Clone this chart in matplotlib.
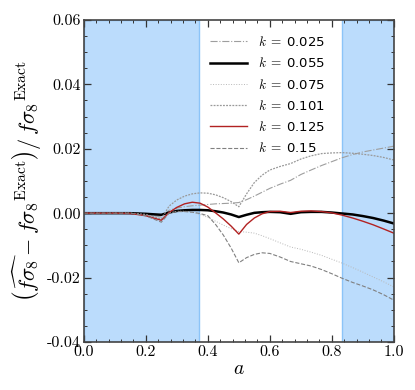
import matplotlib
matplotlib.use("Agg")
import matplotlib.pyplot as plt
import numpy as np
from matplotlib.ticker import AutoMinorLocator, FormatStrFormatter

plt.rcParams['font.family'] = 'serif'
plt.rcParams['font.serif'] = ['cmr10', 'DejaVu Serif']
plt.rcParams['mathtext.fontset'] = 'cm'
plt.rcParams['axes.formatter.use_mathtext'] = True
plt.rcParams['axes.unicode_minus'] = True

# scale factor grid and relative error curves
a = [0.0, 0.05, 0.1, 0.15, 0.2, 0.25, 0.275, 0.3, 0.325, 0.35, 0.375, 0.4, 0.425,
     0.45, 0.475, 0.5, 0.525, 0.55, 0.575, 0.6, 0.633, 0.667, 0.7, 0.733, 0.767,
     0.8, 0.833, 0.867, 0.9, 0.933, 0.967, 1.0]
err_k0025 = [0.0, 0.0, 0.0, 0.0, -0.0003, -0.0012, 0.0009, 0.0016, 0.002, 0.0023,
             0.0025, 0.0027, 0.0029, 0.003, 0.0031, 0.0033, 0.0042, 0.0053, 0.0065,
             0.0077, 0.009, 0.0102, 0.012, 0.0134, 0.0148, 0.016, 0.0172, 0.0182,
             0.019, 0.0196, 0.0202, 0.0208]
err_k0055 = [0.0, 0.0, 0.0, 0.0, -0.0002, -0.0005, 0.0002, 0.0007, 0.0009, 0.001,
             0.001, 0.0009, 0.0006, 0.0002, -0.0004, -0.0012, -0.0005, 0.0001, 0.0003,
             0.0004, 0.0003, -0.0002, 0.0003, 0.0004, 0.0004, 0.0002, -0.0001, -0.0004,
             -0.0009, -0.0015, -0.0023, -0.0032]
err_k0075 = [0.0, 0.0, 0.0, 0.0, -0.0006, -0.0022, 0.0001, 0.0006, 0.0006, 0.0003,
             -0.0004, -0.0013, -0.0025, -0.0037, -0.0048, -0.0057, -0.0059, -0.0062,
             -0.007, -0.0079, -0.0092, -0.0105, -0.0112, -0.0121, -0.0131, -0.0143,
             -0.0155, -0.0169, -0.0183, -0.0198, -0.0213, -0.0229]
err_k0101 = [0.0, 0.0, 0.0, 0.0, -0.0004, -0.0018, 0.0022, 0.0041, 0.0053, 0.006,
             0.0063, 0.0062, 0.0057, 0.0048, 0.0036, 0.002, 0.006, 0.0095, 0.0118,
             0.0134, 0.0145, 0.0154, 0.0168, 0.0178, 0.0185, 0.0187, 0.0188, 0.0186,
             0.0183, 0.0179, 0.0173, 0.0165]
err_k0125 = [0.0, 0.0, 0.0, -0.0001, -0.0008, -0.0022, 0.0002, 0.0018, 0.0029, 0.0034,
             0.0031, 0.0019, 0.0001, -0.0018, -0.004, -0.0065, -0.0035, -0.0015,
             -0.0002, 0.0005, 0.0006, 0.0002, 0.0006, 0.0007, 0.0005, 0.0001, -0.0006,
             -0.0015, -0.0025, -0.0036, -0.0049, -0.0062]
err_k015 = [0.0, 0.0, 0.0, 0.0, -0.0008, -0.0028, 0.0, 0.0005, 0.0005, 0.0003,
            -0.0001, -0.0008, -0.0035, -0.0068, -0.0108, -0.0154, -0.0138, -0.0128,
            -0.0123, -0.0125, -0.0136, -0.015, -0.0157, -0.0164, -0.0175, -0.0188,
            -0.0202, -0.0215, -0.0226, -0.0238, -0.0253, -0.027]

fit_ranges = [(0.0, 0.373), (0.833, 1.0)]

fig = plt.figure(figsize=(4.15, 3.9), dpi=100)
ax = fig.add_axes([0.202, 0.123, 0.747, 0.826])

for lo, hi in fit_ranges:
    ax.axvspan(lo, hi, facecolor='#bbdcfc', edgecolor='#8cc4f8', lw=1.0, zorder=0)

ax.plot(a, err_k0025, color='0.62', lw=0.8, ls='-.', label=r'$k\;=\;$0.025')
ax.plot(a, err_k0055, color='k', lw=1.8, ls='-', label=r'$k\;=\;$0.055')
ax.plot(a, err_k0075, color='0.72', lw=0.7, ls=':', label=r'$k\;=\;$0.075')
ax.plot(a, err_k0101, color='0.6', lw=0.9, ls=(0, (1.5, 1)), label=r'$k\;=\;$0.101')
ax.plot(a, err_k0125, color='#b22222', lw=1.0, ls='-', label=r'$k\;=\;$0.125')
ax.plot(a, err_k015, color='0.5', lw=0.8, ls='--', label=r'$k\;=\;$0.15')

ax.set_xlim(0, 1)
ax.set_ylim(-0.04, 0.06)
ax.set_xticks([0.0, 0.2, 0.4, 0.6, 0.8, 1.0])
ax.set_yticks([-0.04, -0.02, 0.0, 0.02, 0.04, 0.06])
ax.xaxis.set_major_formatter(FormatStrFormatter('%.1f'))
ax.yaxis.set_major_formatter(FormatStrFormatter('%.2f'))
ax.xaxis.set_minor_locator(AutoMinorLocator(5))
ax.yaxis.set_minor_locator(AutoMinorLocator(4))
ax.tick_params(which='both', direction='in', top=True, right=True, color='#333333',
               labelsize=11.5, pad=2)
ax.tick_params(which='major', length=5, width=0.9)
ax.tick_params(which='minor', length=2.5, width=0.7)
for s in ax.spines.values():
    s.set_color('#444444')
    s.set_linewidth(1.2)

ax.set_xlabel(r'$a$', fontsize=14, labelpad=1)
ax.set_ylabel(r'$\left(\widehat{f\sigma_8} - f{\sigma_8}^{\rm Exact}\right)/\,f{\sigma_8}^{\rm Exact}$',
              fontsize=16, labelpad=2)

leg = ax.legend(loc='upper left', bbox_to_anchor=(0.37, 0.99), frameon=False,
                prop={'family': 'DejaVu Sans', 'size': 9.5}, handlelength=2.8,
                handletextpad=0.8, labelspacing=0.55)

fig.savefig('out.png', dpi=100)
